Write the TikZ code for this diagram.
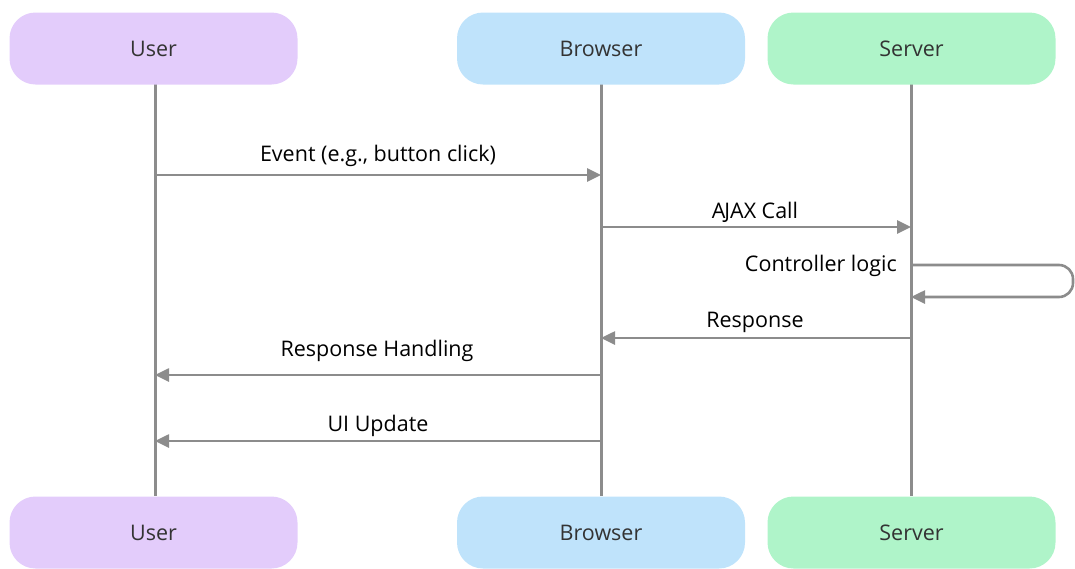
\documentclass[tikz,border=0pt]{standalone}
\usepackage{fontspec}
\setmainfont{Open Sans}
\usetikzlibrary{arrows.meta}
\definecolor{userc}{HTML}{E3CCFB}
\definecolor{browc}{HTML}{BFE3FB}
\definecolor{servc}{HTML}{AFF4C9}
\definecolor{linec}{HTML}{8C8C8C}
\definecolor{txtc}{HTML}{333333}
\tikzset{
  actor/.style={rounded corners=26pt, minimum width=288pt, minimum height=72pt, inner sep=0pt, text=txtc, font=\fontsize{21.5pt}{24pt}\selectfont},
  life/.style={draw=linec, line width=3pt},
  msg/.style={draw=linec, line width=2.6pt, -{Triangle[length=14pt,width=13pt]}},
  lbl/.style={text=black, font=\fontsize{21.5pt}{24pt}\selectfont, inner sep=0pt}
}
\begin{document}
\begin{tikzpicture}[x=1pt,y=-1pt]
\useasboundingbox (0,0) rectangle (1075,568);
% lifelines
\draw[life] (155,84) -- (155,496);
\draw[life] (601,84) -- (601,496);
\draw[life] (911,84) -- (911,496);
% actors
\node[actor, fill=userc] (u1) at (153.5,48.5) {User};
\node[actor, fill=browc] (b1) at (601,48.5) {Browser};
\node[actor, fill=servc] (s1) at (911.5,48.5) {Server};
\node[actor, fill=userc] (u2) at (153.5,532.5) {User};
\node[actor, fill=browc] (b2) at (601,532.5) {Browser};
\node[actor, fill=servc] (s2) at (911.5,532.5) {Server};
% anchor coordinates on lifelines
\coordinate (u175) at (155,175); \coordinate (b175) at (601,175);
\coordinate (b227) at (601,227); \coordinate (s227) at (911,227);
\coordinate (s265) at (911,265); \coordinate (s297) at (911,297);
\coordinate (s338) at (911,338); \coordinate (b338) at (601,338);
\coordinate (b375) at (601,375); \coordinate (u375) at (155,375);
\coordinate (b441) at (601,441); \coordinate (u441) at (155,441);
% messages
\draw[msg] (u175) -- (b175);
\node[lbl] (l1) at (378,155.5) {Event (e.g., button click)};
\draw[msg] (b227) -- (s227);
\node[lbl] (l2) at (755,212) {A\kern-1.1ptJAX Call};
\draw[msg, rounded corners=14pt] (s265) -- (1073,265) -- (1073,297) -- (s297);
\node[lbl, anchor=east] (l3) at (897,266) {Controller logic};
\draw[msg] (s338) -- (b338);
\node[lbl] (l4) at (755,322) {Response};
\draw[msg] (b375) -- (u375);
\node[lbl] (l5) at (377,351) {Response Handling};
\draw[msg] (b441) -- (u441);
\node[lbl] (l6) at (378,426) {UI Update};
\end{tikzpicture}
\end{document}
